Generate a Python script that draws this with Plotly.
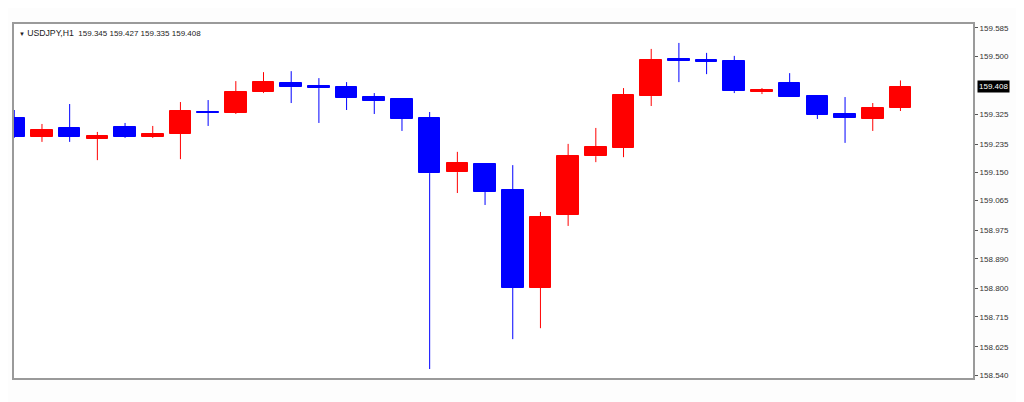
import plotly.graph_objects as go

# ---- data (USDJPY, H1) ----
bar_index = list(range(33))
open_ = [159.314, 159.257, 159.284, 159.251, 159.287, 159.257, 159.266, 159.333, 159.329, 159.392,
         159.419, 159.409, 159.407, 159.377, 159.371, 159.314, 159.151, 159.175, 159.097, 158.802,
         159.022, 159.199, 159.224, 159.380, 159.492, 159.489, 159.486, 159.392, 159.419, 159.380,
         159.326, 159.311, 159.345]
high = [159.338, 159.296, 159.356, 159.272, 159.299, 159.290, 159.362, 159.368, 159.425, 159.452,
        159.455, 159.434, 159.422, 159.389, 159.374, 159.332, 159.212, 159.178, 159.172, 159.031,
        159.236, 159.284, 159.404, 159.522, 159.540, 159.510, 159.501, 159.404, 159.449, 159.380,
        159.377, 159.359, 159.427]
low = [159.254, 159.242, 159.242, 159.187, 159.254, 159.254, 159.190, 159.290, 159.326, 159.389,
       159.359, 159.299, 159.338, 159.326, 159.275, 158.558, 159.088, 159.052, 158.648, 158.681,
       158.989, 159.181, 159.196, 159.350, 159.422, 159.446, 159.389, 159.386, 159.377, 159.311,
       159.239, 159.275, 159.335]
close = [159.257, 159.278, 159.257, 159.260, 159.257, 159.266, 159.335, 159.329, 159.392, 159.422,
         159.407, 159.404, 159.374, 159.365, 159.311, 159.148, 159.178, 159.091, 158.802, 159.016,
         159.199, 159.227, 159.383, 159.489, 159.486, 159.483, 159.395, 159.398, 159.377, 159.323,
         159.314, 159.345, 159.408]
tick_vals = [159.585, 159.500, 159.325, 159.235, 159.150, 159.065, 158.975, 158.890,
             158.800, 158.715, 158.625, 158.540]
symbol = "USDJPY,H1"

UP = "#ff0000"
DOWN = "#0000ff"

fig = go.Figure()

# wicks
for col, cond in ((UP, lambda o, c: c > o), (DOWN, lambda o, c: c <= o)):
    xs, ys = [], []
    for i, o, h, l, c in zip(bar_index, open_, high, low, close):
        if not cond(o, c):
            continue
        top, bot = max(o, c), min(o, c)
        if h > top:
            xs += [i, i, None]; ys += [h, top, None]
        if l < bot:
            xs += [i, i, None]; ys += [bot, l, None]
    fig.add_trace(go.Scatter(x=xs, y=ys, mode="lines", line=dict(color=col, width=1),
                             hoverinfo="skip", showlegend=False))

# bodies
colors = [UP if c > o else DOWN for o, c in zip(open_, close)]
fig.add_trace(go.Bar(
    x=bar_index,
    base=[min(o, c) for o, c in zip(open_, close)],
    y=[abs(c - o) for o, c in zip(open_, close)],
    width=0.78,
    marker=dict(color=colors, line=dict(color=colors, width=1)),
    showlegend=False,
))

fig.update_layout(
    width=1016, height=394,
    margin=dict(l=4, r=51, t=16, b=24),
    paper_bgcolor="#fdfdfd",
    plot_bgcolor="#ffffff",
    bargap=0,
    font=dict(family="Liberation Sans, Arial, sans-serif", size=8, color="#333333"),
    xaxis=dict(range=[-0.01, 34.62], showgrid=False, zeroline=False, showticklabels=False,
               ticks="", showline=True, linecolor="#9a9a9a", linewidth=2, mirror=True,
               fixedrange=True),
    yaxis=dict(range=[158.531, 159.597], side="right", tickvals=tick_vals,
               ticktext=[f"{v:.3f}" for v in tick_vals], ticks="outside", ticklen=3,
               tickcolor="#555555", showgrid=False, zeroline=False, showline=True,
               linecolor="#9a9a9a", linewidth=2, mirror=True,
               tickfont=dict(size=8, color="#333333")),
    annotations=[
        dict(xref="paper", yref="paper", x=0.003, y=0.995, xanchor="left", yanchor="top",
             showarrow=False,
             text=(f"<span style='font-size:6px'>▼</span> <span style='font-size:8.7px'>{symbol}</span>  "
                   f"{open_[-1]:.3f} {high[-1]:.3f} {low[-1]:.3f} {close[-1]:.3f}"),
             font=dict(size=8, color="#222222")),
        dict(xref="paper", yref="y", x=1.004, y=close[-1], xanchor="left", yanchor="middle",
             showarrow=False, text=f"{close[-1]:.3f}", bgcolor="#000000",
             font=dict(size=8, color="#ffffff"), borderpad=1),
    ],
)

fig.write_html("out.html")
